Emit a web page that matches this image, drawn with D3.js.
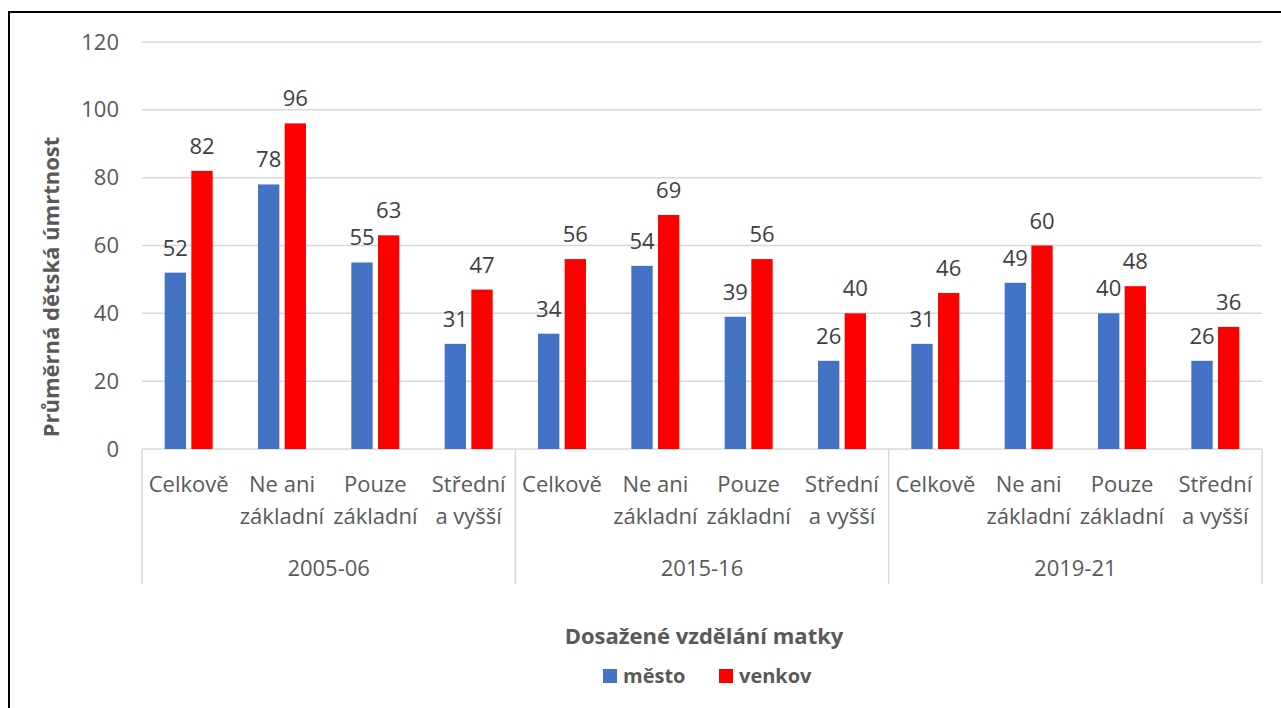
<!DOCTYPE html>
<html>
<head>
<meta charset="utf-8">
<script src="https://cdn.jsdelivr.net/npm/d3@7"></script>
<style>
  body { margin: 0; background: #fff; }
  svg text { font-family: "Open Sans", sans-serif; }
</style>
</head>
<body>
<svg id="chart"></svg>
<script>
// data
var periods = ["2005-06", "2015-16", "2019-21"];
var eduLevels = [["Celkově"], ["Ne ani", "základní"], ["Pouze", "základní"], ["Střední", "a vyšší"]];
var seriesNames = ["město", "venkov"];
var mesto = [52, 78, 55, 31, 34, 54, 39, 26, 31, 49, 40, 26];
var venkov = [82, 96, 63, 47, 56, 69, 56, 40, 46, 60, 48, 36];
var yTicks = [0, 20, 40, 60, 80, 100, 120];
var colors = ["#4472C4", "#FF0000"];

var width = 1281, height = 708;
var marginLeft = 142, marginRight = 19, plotTop = 42, plotBottom = 449;
var fs = "22px";

var svg = d3.select("#chart").attr("width", width).attr("height", height);

// outer frame
svg.append("rect")
    .attr("x", 9).attr("y", 12)
    .attr("width", width + 20).attr("height", height + 20)
    .attr("fill", "none").attr("stroke", "#000").attr("stroke-width", 2);

var cats = [];
periods.forEach(function(p, pi) {
    eduLevels.forEach(function(e, ei) {
        cats.push({ key: pi + "-" + ei, period: p, lines: e, idx: pi * 4 + ei });
    });
});

var x0 = d3.scaleBand(cats.map(function(d) { return d.key; }), [marginLeft, width - marginRight]);
var groupW = 48;
var x1 = d3.scaleBand(seriesNames, [0, groupW]).paddingInner(0.2);
var y = d3.scaleLinear([0, 120], [plotBottom, plotTop]);

// gridlines
svg.append("g")
    .selectAll("line")
    .data(yTicks)
    .join("line")
    .attr("x1", marginLeft).attr("x2", width - marginRight)
    .attr("y1", function(d) { return y(d); }).attr("y2", function(d) { return y(d); })
    .attr("stroke", "#d9d9d9").attr("stroke-width", 1.5);

// y axis tick labels
svg.append("g")
    .attr("transform", "translate(" + (marginLeft - 4) + ",0)")
    .call(d3.axisLeft(y).tickValues(yTicks).tickSize(0).tickPadding(19))
    .call(function(g) { g.select(".domain").remove(); })
    .call(function(g) {
        g.selectAll("text")
            .attr("fill", "#595959")
            .style("font-size", fs)
            .style("font-family", "'Open Sans', sans-serif");
    });

// bars
var seriesData = [mesto, venkov];
var barG = svg.append("g");
cats.forEach(function(c) {
    var gx = x0(c.key) + (x0.bandwidth() - groupW) / 2;
    seriesNames.forEach(function(s, si) {
        var v = seriesData[si][c.idx];
        barG.append("rect")
            .attr("x", gx + x1(s))
            .attr("y", y(v))
            .attr("width", x1.bandwidth())
            .attr("height", y(0) - y(v))
            .attr("fill", colors[si]);
        barG.append("text")
            .attr("x", gx + x1(s) + x1.bandwidth() / 2)
            .attr("y", y(v) - 17)
            .attr("text-anchor", "middle")
            .attr("fill", "#404040")
            .style("font-size", fs)
            .text(v);
    });
});

// category axis (multi-level)
var axisG = svg.append("g");
var sepX = [marginLeft];
periods.forEach(function(p, pi) {
    sepX.push(x0(pi + "-3") + x0.bandwidth());
});
axisG.selectAll("line.sep")
    .data(sepX)
    .join("line")
    .attr("class", "sep")
    .attr("x1", function(d) { return d; }).attr("x2", function(d) { return d; })
    .attr("y1", plotBottom).attr("y2", 584)
    .attr("stroke", "#d9d9d9").attr("stroke-width", 1.5);

cats.forEach(function(c) {
    var t = axisG.append("text")
        .attr("text-anchor", "middle")
        .attr("fill", "#595959")
        .style("font-size", fs);
    c.lines.forEach(function(line, li) {
        t.append("tspan")
            .attr("x", x0(c.key) + x0.bandwidth() / 2)
            .attr("y", 492 + li * 32)
            .text(line);
    });
});

periods.forEach(function(p, pi) {
    axisG.append("text")
        .attr("x", (sepX[pi] + sepX[pi + 1]) / 2)
        .attr("y", 576)
        .attr("text-anchor", "middle")
        .attr("fill", "#595959")
        .style("font-size", fs)
        .text(p);
});

// axis titles
svg.append("text")
    .attr("transform", "translate(59,287) rotate(-90)")
    .attr("text-anchor", "middle")
    .attr("fill", "#595959")
    .style("font-size", fs)
    .style("font-weight", "bold")
    .text("Průměrná dětská úmrtnost");

svg.append("text")
    .attr("x", 704).attr("y", 644)
    .attr("text-anchor", "middle")
    .attr("fill", "#595959")
    .style("font-size", fs)
    .style("font-weight", "bold")
    .text("Dosažené vzdělání matky");

// legend
var legendX = [603, 719];
var legend = svg.append("g");
seriesNames.forEach(function(s, si) {
    legend.append("rect")
        .attr("x", legendX[si]).attr("y", 669)
        .attr("width", 14).attr("height", 14)
        .attr("fill", colors[si]);
    legend.append("text")
        .attr("x", legendX[si] + 20).attr("y", 683)
        .attr("fill", "#595959")
        .style("font-size", "20px")
        .style("font-weight", "bold")
        .text(s);
});
</script>
</body>
</html>
